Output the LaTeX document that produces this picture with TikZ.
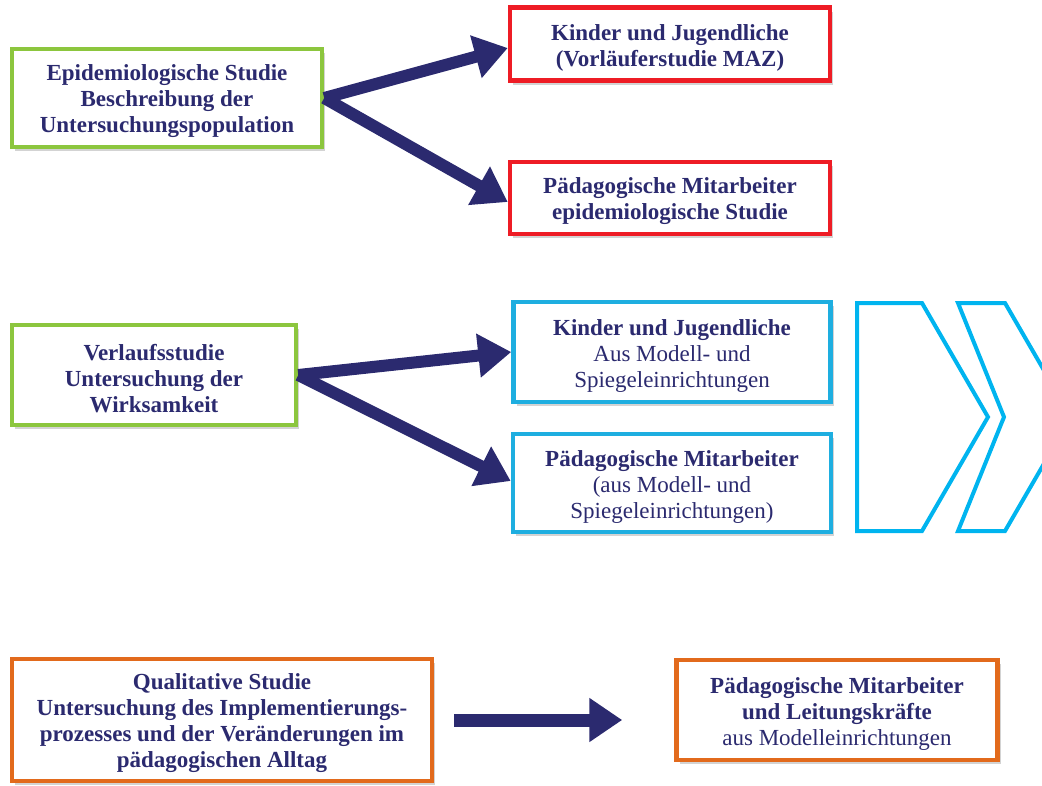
\documentclass[tikz,border=0pt]{standalone}
\usepackage{fontspec}
\setmainfont{Liberation Serif}
\usepackage{tikz}
\usetikzlibrary{arrows.meta, shadows}
\definecolor{navy}{HTML}{2B2A6F}
\definecolor{boxgreen}{HTML}{8CC63E}
\definecolor{boxred}{HTML}{EE1C25}
\definecolor{boxblue}{HTML}{1EAEE0}
\definecolor{boxorange}{HTML}{E26A1C}
\definecolor{chevcyan}{HTML}{00B4EF}
\newcommand{\lineup}{\rule{0pt}{23pt}}
\tikzset{ box/.style = {draw, line width=4.5pt, fill=white, align=center, text=navy, inner sep=0pt,
    font=\fontsize{23}{26}\selectfont\bfseries,
    drop shadow={opacity=0.35, shadow xshift=3pt, shadow yshift=-4pt}},
  greenbox/.style = {box, draw=boxgreen},
  redbox/.style = {box, draw=boxred},
  bluebox/.style = {box, draw=boxblue},
  orangebox/.style = {box, draw=boxorange},
  bigarrow/.style = {draw=navy, line width=12pt, -{Triangle[length=33pt, width=42pt]}},
  chevron/.style = {draw=chevcyan, line width=4pt, line join=miter} }

\begin{document}
\begin{tikzpicture}[x=1pt, y=-1pt]
  \useasboundingbox (0,0) rectangle (1042,785);
  \clip (0,0) rectangle (1042,785);

  \path (167,98) node[greenbox, minimum width=310pt, minimum height=98pt] (epi) {\lineup Epidemiologische Studie\\Beschreibung der\\Untersuchungspopulation}
      (670,44) node[redbox, minimum width=320pt, minimum height=73pt] (kinder) {\lineup Kinder und Jugendliche\\(Vorläuferstudie MAZ)}
      ++(0,154) node[redbox, minimum width=320pt, minimum height=72pt] (paed) {\lineup Pädagogische Mitarbeiter\\epidemiologische Studie};

  \path (154,375) node[greenbox, minimum width=284pt, minimum height=100pt] (verl) {\lineup Verlaufsstudie\\Untersuchung der\\Wirksamkeit}
      (672,352) node[bluebox, minimum width=317pt, minimum height=100pt] (kinderb) {\lineup Kinder und Jugendliche\\\mdseries Aus Modell- und\\\mdseries Spiegeleinrichtungen}
      ++(0,131) node[bluebox, minimum width=318pt, minimum height=98pt] (paedb) {\lineup Pädagogische Mitarbeiter\\\mdseries (aus Modell- und\\\mdseries Spiegeleinrichtungen)};

  \path (222,720) node[orangebox, minimum width=420pt, minimum height=122pt] (qual) {\lineup Qualitative Studie\\Untersuchung des Implementierungs-\\prozesses und der Veränderungen im\\pädagogischen Alltag}
      (837,710) node[orangebox, minimum width=321pt, minimum height=100pt] (leit) {\lineup Pädagogische Mitarbeiter\\und Leitungskräfte\\\mdseries aus Modelleinrichtungen};

  \draw[bigarrow] (epi.east) -- ([yshift=-4pt]kinder.west);
  \draw[bigarrow] (epi.east) -- ([yshift=-4pt]paed.west);
  \draw[bigarrow] (verl.east) -- (kinderb.west);
  \draw[bigarrow] (verl.east) -- ([yshift=2pt]paedb.west);
  \draw[bigarrow, line width=13pt, shorten <=20pt, shorten >=52pt] (qual.east) -- (qual.east -| leit.west);

  \draw[chevron] (857,303) -- (922,303) -- (988,417) -- (922,531) -- (857,531) -- cycle;
  \draw[chevron] (958,303) -- (1005,303) -- (1071,417) -- (1005,531) -- (958,531) -- (1004,417) -- cycle;
\end{tikzpicture}
\end{document}
